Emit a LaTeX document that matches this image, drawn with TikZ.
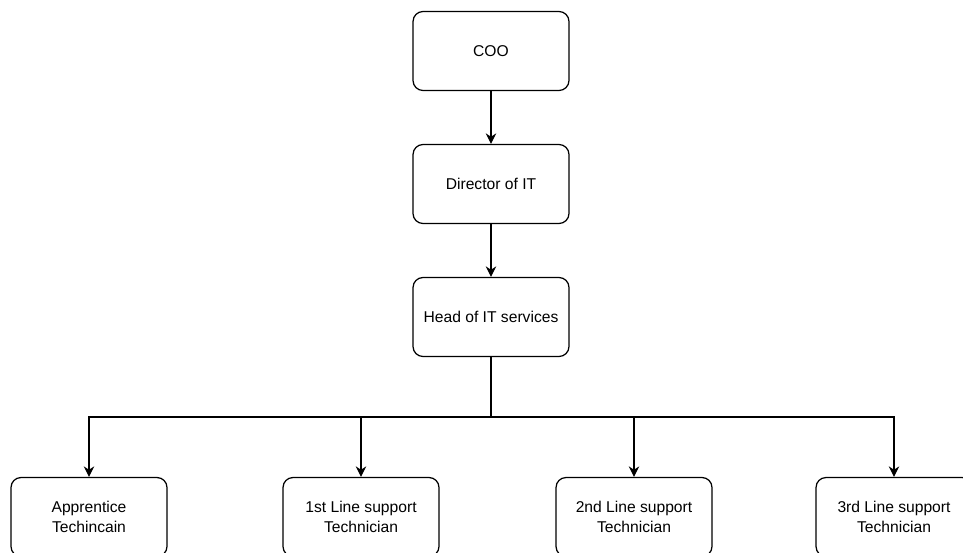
\documentclass[tikz,border=0pt]{standalone}
\usepackage{fontspec}
\setmainfont{Liberation Sans}
\usetikzlibrary{arrows.meta}

\begin{document}
\begin{tikzpicture}[x=0.02cm,y=-0.02cm,
    box/.style={draw,rounded corners=0.2cm,minimum width=3.12cm,minimum height=1.58cm,
      align=center,line width=0.7pt,font=\fontsize{8.9}{11.4}\selectfont},
    link/.style={line width=0.7pt,-{Stealth[length=6pt,width=6pt]}}]
          \clip (0,0) rectangle (963,552);

          \node[box] (coo) at (491,51) {COO};
          \node[box] (dir) at (491,184) {Director of IT};
          \node[box] (head) at (491,317) {Head of IT services};

          \node[box] (appr) at (89,517) {Apprentice\\Techincain};
          \node[box] (first) at (361,517) {1st Line support\\Technician};
          \node[box] (second) at (634,517) {2nd Line support\\Technician};
          \node[box] (third) at (894,517) {3rd Line support\\Technician};

          \draw[link] (coo) -- (dir);
          \draw[link] (dir) -- (head);

          \coordinate (bus) at (491,417);
          \draw[line width=0.7pt] (head.south) -- (bus);
          \draw[link] (bus) -| (appr.north);
          \draw[link] (bus) -| (first.north);
          \draw[link] (bus) -| (second.north);
          \draw[link] (bus) -| (third.north);
        \end{tikzpicture}
\end{document}
